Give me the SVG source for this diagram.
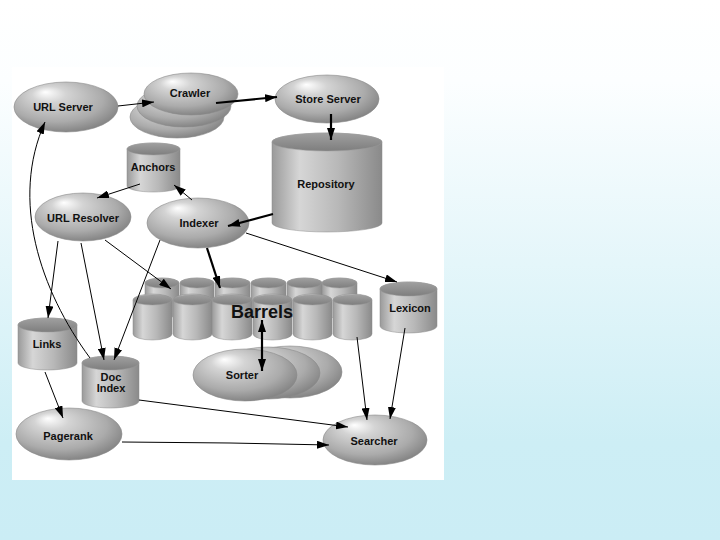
<svg xmlns="http://www.w3.org/2000/svg" width="720" height="540" viewBox="0 0 720 540">
<defs>
<linearGradient id="bg" x1="0" y1="0" x2="0" y2="1">
<stop offset="0" stop-color="#ffffff"/>
<stop offset="0.15" stop-color="#fcfeff"/>
<stop offset="0.82" stop-color="#cdeef5"/>
<stop offset="1" stop-color="#cbedf5"/>
</linearGradient>
<radialGradient id="ell" cx="0.45" cy="0.4" r="0.65" fx="0.3" fy="0.2">
<stop offset="0" stop-color="#ffffff"/>
<stop offset="0.25" stop-color="#d4d4d4"/>
<stop offset="0.7" stop-color="#ababab"/>
<stop offset="1" stop-color="#7c7c7c"/>
</radialGradient>
<linearGradient id="cylg" x1="0" y1="0" x2="1" y2="0">
<stop offset="0" stop-color="#9a9a9a"/>
<stop offset="0.25" stop-color="#d6d6d6"/>
<stop offset="0.6" stop-color="#b8b8b8"/>
<stop offset="1" stop-color="#8a8a8a"/>
</linearGradient>
<linearGradient id="topg" x1="0" y1="0" x2="0" y2="1">
<stop offset="0" stop-color="#a0a0a0"/>
<stop offset="1" stop-color="#7e7e7e"/>
</linearGradient>
<marker id="ah" viewBox="0 0 12 8" refX="12" refY="4" markerWidth="12" markerHeight="8" markerUnits="userSpaceOnUse" orient="auto-start-reverse">
<path d="M0,0 L12,4 L0,8 z" fill="#000"/>
</marker>
</defs>
<style>
.e{fill:url(#ell);stroke:#8a8a8a;stroke-width:0.6}
.cb{fill:url(#cylg);stroke:#8a8a8a;stroke-width:0.5}
.ct{fill:url(#topg);stroke:#9a9a9a;stroke-width:0.5}
text{font-family:"Liberation Sans",Arial,sans-serif;font-weight:bold;font-size:11px;fill:#111;text-anchor:middle}
.big{font-size:18px}
.c{fill:none;stroke:#000;stroke-width:1;marker-end:url(#ah)}
.t{stroke-width:2.2}
</style>
<rect x="0" y="0" width="720" height="540" fill="url(#bg)"/>
<rect x="12" y="67" width="432" height="413" fill="#ffffff"/>

<g id="url-server"><ellipse class="e" cx="66" cy="107" rx="52" ry="25"/><text x="63" y="111">URL Server</text></g>
<g id="crawler">
<ellipse class="e" cx="177" cy="117" rx="47" ry="21"/>
<ellipse class="e" cx="184" cy="106" rx="47" ry="21"/>
<ellipse class="e" cx="191" cy="94" rx="47" ry="21"/>
<text x="190" y="97">Crawler</text></g>
<g id="store-server"><ellipse class="e" cx="327" cy="99" rx="52" ry="24"/><text x="328" y="103">Store Server</text></g>
<g id="repository">
<path class="cb" d="M272,142 V223 A55,9 0 0 0 382,223 V142 A55,9 0 0 0 272,142 Z"/>
<ellipse class="ct" cx="327" cy="142" rx="55" ry="9"/>
<text x="326" y="188">Repository</text></g>
<g id="anchors">
<path class="cb" d="M127,149 V186 A26.5,6 0 0 0 180,186 V149 A26.5,6 0 0 0 127,149 Z"/>
<ellipse class="ct" cx="153.5" cy="149" rx="26.5" ry="6"/>
<text x="153" y="171">Anchors</text></g>
<g id="url-resolver"><ellipse class="e" cx="83" cy="217" rx="48" ry="24"/><text x="83" y="222">URL Resolver</text></g>
<g id="indexer"><ellipse class="e" cx="198" cy="223" rx="51" ry="25"/><text x="199" y="227">Indexer</text></g>

<g id="barrels">
<g>
<path class="cb" d="M145,283 V313 A17,5 0 0 0 179,313 V283 A17,5 0 0 0 145,283 Z"/><ellipse class="ct" cx="162" cy="283" rx="17" ry="5"/>
<path class="cb" d="M180,283 V313 A17,5 0 0 0 214,313 V283 A17,5 0 0 0 180,283 Z"/><ellipse class="ct" cx="197" cy="283" rx="17" ry="5"/>
<path class="cb" d="M215,283 V313 A17.5,5 0 0 0 250,313 V283 A17.5,5 0 0 0 215,283 Z"/><ellipse class="ct" cx="232.5" cy="283" rx="17.5" ry="5"/>
<path class="cb" d="M251,283 V313 A17.5,5 0 0 0 286,313 V283 A17.5,5 0 0 0 251,283 Z"/><ellipse class="ct" cx="268.5" cy="283" rx="17.5" ry="5"/>
<path class="cb" d="M287,283 V313 A17.5,5 0 0 0 322,313 V283 A17.5,5 0 0 0 287,283 Z"/><ellipse class="ct" cx="304.5" cy="283" rx="17.5" ry="5"/>
<path class="cb" d="M322,283 V313 A17.5,5 0 0 0 357,313 V283 A17.5,5 0 0 0 322,283 Z"/><ellipse class="ct" cx="339.5" cy="283" rx="17.5" ry="5"/>
</g>
<g>
<path class="cb" d="M133,300 V334 A19.5,6 0 0 0 172,334 V300 A19.5,6 0 0 0 133,300 Z"/><ellipse class="ct" cx="152.5" cy="300" rx="19.5" ry="5"/>
<path class="cb" d="M173,300 V334 A19.5,6 0 0 0 212,334 V300 A19.5,6 0 0 0 173,300 Z"/><ellipse class="ct" cx="192.5" cy="300" rx="19.5" ry="5"/>
<path class="cb" d="M212,300 V334 A20,6 0 0 0 252,334 V300 A20,6 0 0 0 212,300 Z"/><ellipse class="ct" cx="232" cy="300" rx="20" ry="5"/>
<path class="cb" d="M253,300 V334 A19.5,6 0 0 0 292,334 V300 A19.5,6 0 0 0 253,300 Z"/><ellipse class="ct" cx="272.5" cy="300" rx="19.5" ry="5"/>
<path class="cb" d="M293,300 V334 A19.5,6 0 0 0 332,334 V300 A19.5,6 0 0 0 293,300 Z"/><ellipse class="ct" cx="312.5" cy="300" rx="19.5" ry="5"/>
<path class="cb" d="M333,300 V334 A19.5,6 0 0 0 372,334 V300 A19.5,6 0 0 0 333,300 Z"/><ellipse class="ct" cx="352.5" cy="300" rx="19.5" ry="5"/>
</g>
<text class="big" x="262" y="318">Barrels</text></g>

<g id="lexicon">
<path class="cb" d="M380,289 V326 A28.5,7 0 0 0 437,326 V289 A28.5,7 0 0 0 380,289 Z"/>
<ellipse class="ct" cx="408.5" cy="289" rx="28.5" ry="7"/>
<text x="410" y="312">Lexicon</text></g>
<g id="links">
<path class="cb" d="M18,325 V363 A29.5,7 0 0 0 77,363 V325 A29.5,7 0 0 0 18,325 Z"/>
<ellipse class="ct" cx="47.5" cy="325" rx="29.5" ry="7"/>
<text x="47" y="348">Links</text></g>
<g id="doc-index">
<path class="cb" d="M82,363 V401 A28.5,7 0 0 0 139,401 V363 A28.5,7 0 0 0 82,363 Z"/>
<ellipse class="ct" cx="110.5" cy="363" rx="28.5" ry="7"/>
<text x="111" y="381">Doc</text><text x="111" y="392">Index</text></g>
<g id="sorter">
<ellipse class="e" cx="290" cy="372" rx="52" ry="26"/>
<ellipse class="e" cx="268" cy="373" rx="52" ry="26"/>
<ellipse class="e" cx="245" cy="375" rx="52" ry="26"/>
<text x="242" y="379">Sorter</text></g>
<g id="pagerank"><ellipse class="e" cx="69" cy="434" rx="53" ry="26"/><text x="68" y="440">Pagerank</text></g>
<g id="searcher"><ellipse class="e" cx="375" cy="440" rx="52" ry="25"/><text x="374" y="445">Searcher</text></g>

<g id="connectors">
<line class="c" x1="118" y1="106" x2="154" y2="102"/>
<line class="c t" x1="216" y1="103" x2="277" y2="97"/>
<line class="c t" x1="331" y1="114" x2="331" y2="140"/>
<line class="c t" x1="273" y1="214" x2="228" y2="226"/>
<line class="c" x1="192" y1="200" x2="174" y2="185"/>
<line class="c" x1="140" y1="184" x2="97" y2="198"/>
<path class="c" d="M90,358 C40,290 10,200 45,122"/>
<line class="c" x1="58" y1="241" x2="48" y2="318"/>
<line class="c" x1="81" y1="243" x2="104" y2="360"/>
<line class="c" x1="160" y1="240" x2="114" y2="360"/>
<line class="c" x1="105" y1="240" x2="171" y2="289"/>
<line class="c t" x1="207" y1="248" x2="220" y2="288"/>
<line class="c" x1="246" y1="233" x2="397" y2="282"/>
<line class="c t" x1="262" y1="320" x2="262" y2="371" style="marker-start:url(#ah)"/>
<line class="c" x1="45" y1="372" x2="63" y2="418"/>
<line class="c" x1="139" y1="400" x2="348" y2="427"/>
<path class="c" d="M122,442 L230,443 L329,445"/>
<line class="c" x1="357" y1="337" x2="367" y2="420"/>
<line class="c" x1="405" y1="328" x2="390" y2="419"/>
</g>
</svg>
